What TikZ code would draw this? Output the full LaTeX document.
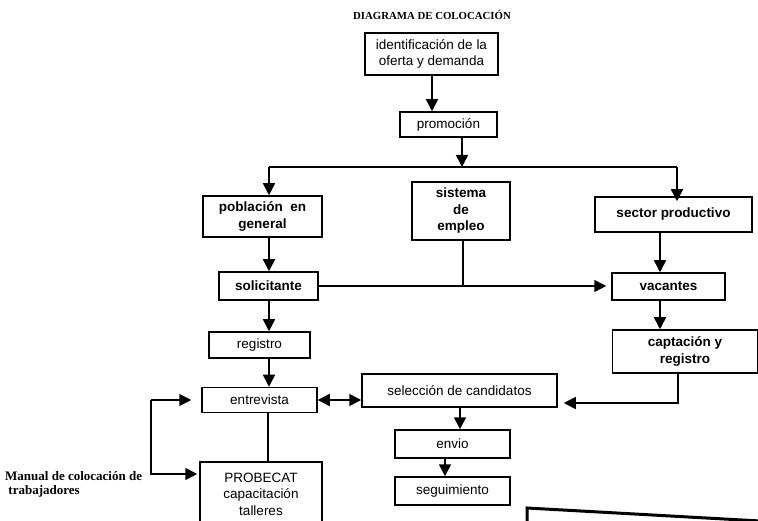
\documentclass[tikz,border=0pt]{standalone}
\usepackage{fontspec}
\setmainfont{Liberation Serif}
\setsansfont{Liberation Sans}
\usetikzlibrary{arrows.meta}
\begin{document}
\begin{tikzpicture}[x=1pt,y=-1pt,
  box/.style={draw,line width=1.5pt,align=center,inner sep=1pt,font=\sffamily\fontsize{13.5}{16.5}\selectfont},
  bbox/.style={box,font=\sffamily\bfseries\fontsize{13.5}{16.5}\selectfont},
  conn/.style={line width=1.5pt},
  arr/.style={conn,-{Triangle[length=12pt,width=12pt]}},
  darr/.style={conn,{Triangle[length=12pt,width=12pt]}-{Triangle[length=12pt,width=12pt]}}]
\clip (0,0) rectangle (758,521);
\fill[white] (0,0) rectangle (758,521);
% title
\node[font=\rmfamily\bfseries\fontsize{10.8}{12}\selectfont] (title) at (432,15) {DIAGRAMA DE COLOCACIÓN};
% boxes
\node[box,minimum width=133pt,minimum height=42pt] (ident) at (431.5,54) {identificación de la\\oferta y demanda};
\node[box,minimum width=97pt,minimum height=25pt] (promo) at (448.5,124.5) {promoción};
\node[bbox,minimum width=119pt,minimum height=41pt] (pobl) at (262.5,216.5) {población\ \ en\\general};
\node[bbox,minimum width=98pt,minimum height=58pt] (sist) at (461,211) {sistema\\de\\empleo};
\node[bbox,minimum width=157pt,minimum height=35pt] (sector) at (673.5,214.5) {sector productivo};
\node[bbox,minimum width=99pt,minimum height=28pt] (solic) at (268.5,286) {solicitante};
\node[bbox,minimum width=113pt,minimum height=27pt] (vac) at (668.5,286.5) {vacantes};
\node[box,minimum width=101pt,minimum height=26pt] (regis) at (259.5,345) {registro};
\node[bbox,minimum width=145pt,minimum height=43pt] (capt) at (685,351.5) {captación y\\registro};
\node[box,minimum width=115pt,minimum height=25pt] (entrev) at (259.5,400) {entrevista};
\node[box,minimum width=195pt,minimum height=33pt] (selec) at (459.5,390.5) {selección de candidatos};
\node[box,minimum width=115pt,minimum height=28pt] (envio) at (452.5,444) {envio};
\node[box,minimum width=115pt,minimum height=28pt] (segui) at (452.5,491) {seguimiento};
\node[box,minimum width=122pt,minimum height=64pt] (probe) at (261,494) {PROBECAT\\capacitación\\talleres};
\node[font=\rmfamily\bfseries\fontsize{13}{14}\selectfont,align=left,anchor=north west,inner sep=0pt] (manual) at (5,471) {Manual de colocación de\\\ trabajadores};
% connector points
\coordinate (split) at (462,167);
\coordinate (hl) at (269,167);
\coordinate (hr) at (677,167);
\coordinate (join) at (463,285);
\coordinate (cdown) at (678,403);
\coordinate (b1) at (151,400);
\coordinate (b2) at (151,474);
\coordinate (edgeA) at (527,530);
\coordinate (edgeB) at (527,508);
\coordinate (edgeC) at (760,521);
% connectors
\draw[arr] (ident.south -| 432,0) -- (promo.north -| 432,0);
\draw[arr] (promo.south -| split) -- (split);
\draw[conn] (hl) -- (hr);
\draw[arr] (hl) -- (pobl.north -| hl);
\draw[arr] (hr) -- ([yshift=-5pt]sector.north -| hr);
\draw[arr] (pobl.south -| hl) -- (solic.north -| hl);
\draw[arr] (solic.east) -- ([xshift=-5pt]vac.west |- solic.east);
\draw[conn] (sist.south -| join) -- (join);
\draw[arr] (sector.south -| 660,0) -- (vac.north -| 660,0);
\draw[arr] (vac.south -| 660,0) -- (capt.north -| 660,0);
\draw[arr] (capt.south -| cdown) -- (cdown) -- ([xshift=6pt]selec.east |- cdown);
\draw[arr] (solic.south -| hl) -- (regis.north -| hl);
\draw[arr] (regis.south -| hl) -- (entrev.north -| hl);
\draw[darr] (entrev.east) -- (selec.west |- entrev.east);
\draw[arr] (selec.south -| 460,0) -- (envio.north -| 460,0);
\draw[arr] (envio.south -| 445,0) -- (segui.north -| 445,0);
\draw[conn] (entrev.south -| 268,0) -- (probe.north -| 268,0);
\draw[arr,shorten >=10pt] (b1) -- (entrev.west);
\draw[arr] (b1) -- (b2) -- ([xshift=-2pt]probe.west |- b2);
\draw[line width=3pt] (edgeA) -- (edgeB) -- (edgeC);
\end{tikzpicture}
\end{document}
